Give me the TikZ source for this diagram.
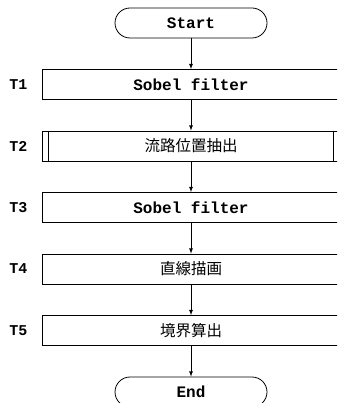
\documentclass[tikz,border=0pt]{standalone}
\usepackage{fontspec}
\setmonofont{Liberation Mono}
\newfontfamily\jp{Noto Sans CJK JP}
\usepackage{tikz}
\usetikzlibrary{arrows,%
                shapes,positioning}

\begin{document}
\begin{tikzpicture}[x=1pt,y=1pt,node distance=30.7pt,
  term/.style={draw,line width=0.8pt,rounded corners=15pt,minimum width=152pt,minimum height=30pt,font=\ttfamily\bfseries\fontsize{16}{16}\selectfont},
  proc/.style={draw,line width=0.8pt,minimum width=298pt,minimum height=30pt,font=\ttfamily\bfseries\fontsize{16}{16}\selectfont},
  tag/.style={inner sep=0pt,font=\ttfamily\bfseries\fontsize{15}{15}\selectfont},
  flow/.style={-latex,line width=0.8pt}]
\useasboundingbox (0,0) rectangle (337,-403);
\clip (0,0) rectangle (337,-403);
\node[term] (start) at (191,-23) {Start};
\node[proc,below=of start] (t1) {Sobel filter};
\node[proc,below=of t1] (t2) {\jp\mdseries\fontsize{15.5}{15.5}\selectfont 流路位置抽出};
\node[proc,below=of t2] (t3) {Sobel filter};
\node[proc,below=of t3] (t4) {\jp\mdseries\fontsize{15.5}{15.5}\selectfont 直線描画};
\node[proc,below=of t4] (t5) {\jp\mdseries\fontsize{15.5}{15.5}\selectfont 境界算出};
\node[term,below=of t5] (end) {End};
% inner lines of T2
\draw[line width=0.8pt] ([xshift=7pt]t2.north west) -- ([xshift=7pt]t2.south west);
\draw[line width=0.8pt] ([xshift=-7pt]t2.north east) -- ([xshift=-7pt]t2.south east);
% labels
\node[tag,left=14pt of t1] (l1) {T1};
\node[tag,left=14pt of t2] (l2) {T2};
\node[tag,left=14pt of t3] (l3) {T3};
\node[tag,left=14pt of t4] (l4) {T4};
\node[tag,left=14pt of t5] (l5) {T5};
% arrows
\draw[flow] (start) -- (t1);
\draw[flow] (t1) -- (t2);
\draw[flow] (t2) -- (t3);
\draw[flow] (t3) -- (t4);
\draw[flow] (t4) -- (t5);
\draw[flow] (t5) -- (end);
\end{tikzpicture}
\end{document}
